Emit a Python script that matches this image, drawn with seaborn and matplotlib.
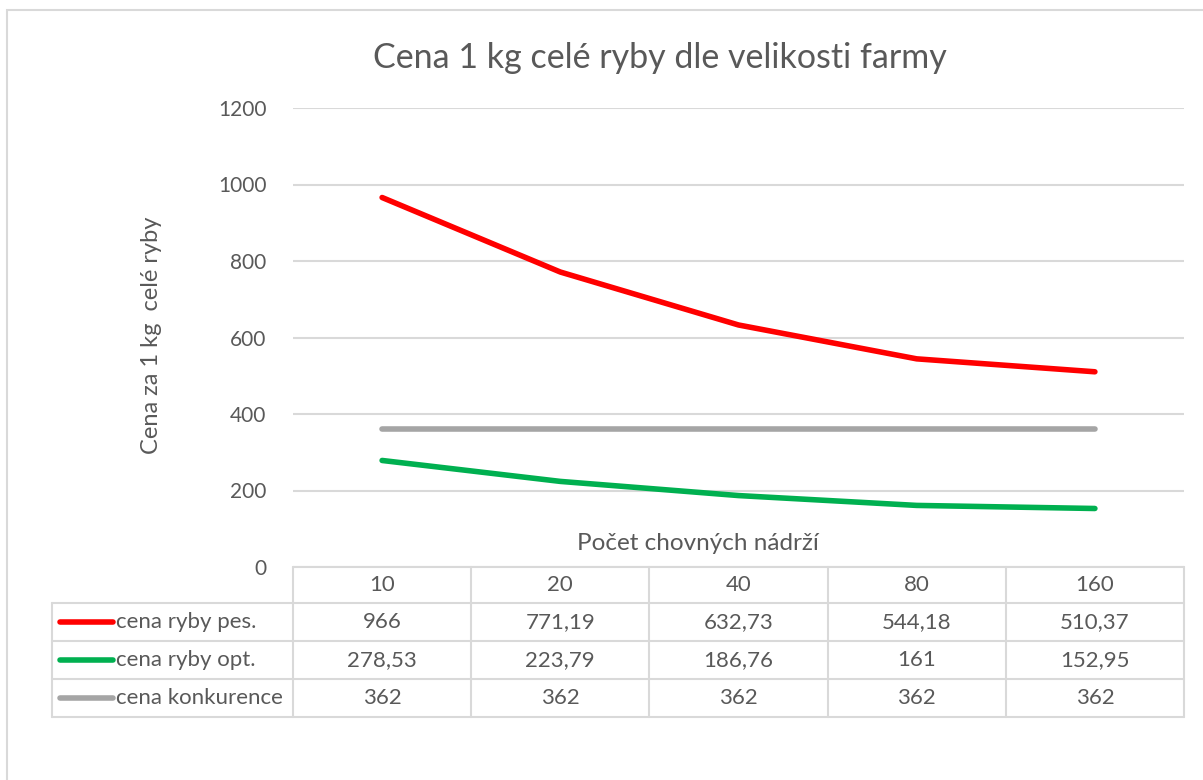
import numpy as np
import pandas as pd
import matplotlib
matplotlib.use("Agg")
import matplotlib.pyplot as plt
import seaborn as sns
from matplotlib.lines import Line2D
from matplotlib.patches import Rectangle

# --- data ---
nadrze = ["10", "20", "40", "80", "160"]
cena_pes = [966, 771.19, 632.73, 544.18, 510.37]
cena_opt = [278.53, 223.79, 186.76, 161, 152.95]
cena_konk = [362, 362, 362, 362, 362]
serie = ["cena ryby pes.", "cena ryby opt.", "cena konkurence"]
barvy = ["#FF0000", "#00B050", "#A5A5A5"]

df = pd.DataFrame({
    "pos": list(range(len(nadrze))) * 3,
    "cena": cena_pes + cena_opt + cena_konk,
    "serie": np.repeat(serie, len(nadrze)),
})

sns.set_theme(style="white")
plt.rcParams["font.family"] = ["Lato", "DejaVu Sans"]
txt = "#595959"
grid = "#D9D9D9"

W, H = 1203, 780
fig = plt.figure(figsize=(W / 100, H / 100), dpi=100)

def fx(px):
    return px / W

def fy(py):
    return 1 - py / H

# outer chart frame
fig.patches.append(Rectangle((fx(7), fy(800)), fx(1220) - fx(7), fy(10) - fy(800),
                             transform=fig.transFigure, fill=False, ec=grid, lw=1.5))

x0, x1, ytop, ybot = 293, 1184, 108, 567
ax = fig.add_axes([fx(x0), fy(ybot), fx(x1) - fx(x0), fy(ytop) - fy(ybot)])
sns.lineplot(data=df, x="pos", y="cena", hue="serie", hue_order=serie,
             palette=barvy, linewidth=4, legend=False, ax=ax, zorder=3)
ax.set_xlim(-0.5, len(nadrze) - 0.5)
ax.set_ylim(0, 1200)
ax.set_yticks(range(0, 1201, 200))
ax.set_xticks([])
ax.yaxis.grid(True, color=grid, lw=1.5)
for s in ax.spines.values():
    s.set_visible(False)
ax.tick_params(axis="y", colors=txt, labelsize=15, length=0, pad=19)
ax.set_xlabel("")
ax.set_ylabel("")

fig.text(fx(152), fy(335), "Cena za 1 kg  celé ryby", rotation=90,
         ha="center", va="center", fontsize=17, color=txt)
fig.text(fx(660), fy(58), "Cena 1 kg celé ryby dle velikosti farmy",
         ha="center", va="center", fontsize=24.5, color=txt)
fig.text(fx(698), fy(543), "Počet chovných nádrží",
         ha="center", va="center", fontsize=17.5, color=txt)

# --- data table under the chart ---
col_edges = np.linspace(x0, x1, len(nadrze) + 1)
row_edges = [567, 603, 641, 679, 717]
tleft = 52
lw_t = 1.5
fs_t = 16

def hline(y, xa, xb):
    fig.add_artist(Line2D([fx(xa), fx(xb)], [fy(y), fy(y)], color=grid, lw=lw_t))

def vline(x, ya, yb):
    fig.add_artist(Line2D([fx(x), fx(x)], [fy(ya), fy(yb)], color=grid, lw=lw_t))

hline(row_edges[0], x0, x1)
for y in row_edges[1:]:
    hline(y, tleft, x1)
for x in col_edges:
    vline(x, row_edges[0], row_edges[-1])
vline(tleft, row_edges[1], row_edges[-1])

def fmt(v):
    return f"{v:g}".replace(".", ",")

for i, lab in enumerate(nadrze):
    cx = (col_edges[i] + col_edges[i + 1]) / 2
    cy = (row_edges[0] + row_edges[1]) / 2
    fig.text(fx(cx), fy(cy), lab, ha="center", va="center", fontsize=fs_t, color=txt)

for r, (name, vals, c) in enumerate(zip(serie, [cena_pes, cena_opt, cena_konk], barvy)):
    cy = (row_edges[r + 1] + row_edges[r + 2]) / 2
    fig.add_artist(Line2D([fx(60), fx(113)], [fy(cy), fy(cy)], color=c, lw=4,
                          solid_capstyle="round"))
    fig.text(fx(116), fy(cy), name, ha="left", va="center", fontsize=fs_t, color=txt)
    for i, v in enumerate(vals):
        cx = (col_edges[i] + col_edges[i + 1]) / 2
        fig.text(fx(cx), fy(cy), fmt(v), ha="center", va="center", fontsize=fs_t, color=txt)

fig.savefig("out.png", dpi=100, facecolor="white")
